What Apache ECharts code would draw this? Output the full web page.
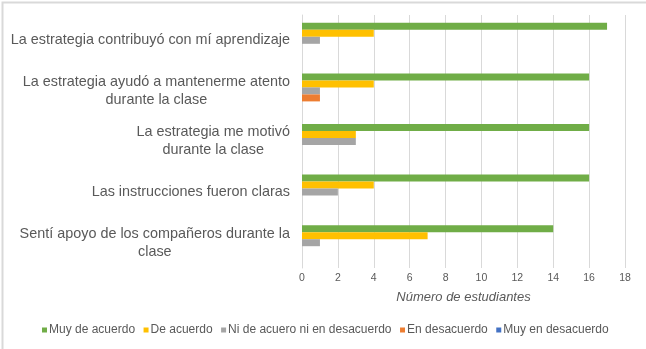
<!DOCTYPE html>
<html>
<head>
<meta charset="utf-8">
<script src="https://cdn.jsdelivr.net/npm/echarts@6/dist/echarts.min.js"></script>
<style>
  html, body { margin: 0; padding: 0; background: #fff; }
  #chart { width: 646px; height: 349px; }
</style>
</head>
<body>
<div id="chart"></div>
<script>
// Survey statements, listed top to bottom
const categories = [
  'La estrategia contribuyó con mí aprendizaje',
  'La estrategia ayudó a mantenerme atento\ndurante la clase',
  'La estrategia me motivó\ndurante la clase',
  'Las instrucciones fueron claras',
  'Sentí apoyo de los compañeros durante la\nclase'
];

// Number of students per response level
const muyDeAcuerdo      = [17, 16, 16, 16, 14];
const deAcuerdo         = [4, 4, 3, 4, 7];
const niDeAcuerdo       = [1, 1, 3, 2, 1];
const enDesacuerdo      = [0, 1, 0, 0, 0];
const muyEnDesacuerdo   = [0, 0, 0, 0, 0];

const seriesNames = [
  'Muy de acuerdo',
  'De acuerdo',
  'Ni de acuero ni en desacuerdo',
  'En desacuerdo',
  'Muy en desacuerdo'
];
const seriesData = [muyDeAcuerdo, deAcuerdo, niDeAcuerdo, enDesacuerdo, muyEnDesacuerdo];
const seriesColors = ['#70AD47', '#FFC000', '#A5A5A5', '#ED7D31', '#4472C4'];

const xTicks = { min: 0, max: 18, interval: 2 };

const chart = echarts.init(document.getElementById('chart'), null, { renderer: 'canvas' });

const labelFont = 'Liberation Sans, Arial, sans-serif';

chart.setOption({
  animation: false,
  backgroundColor: '#ffffff',
  textStyle: { fontFamily: labelFont },
  graphic: [{
    type: 'rect',
    left: 0, top: 0,
    shape: { width: 645, height: 348 },
    style: { fill: 'none', stroke: '#d9d9d9', lineWidth: 2 },
    silent: true
  }],
  grid: { left: 302, right: 21, top: 15, bottom: 81, containLabel: false },
  xAxis: {
    type: 'value',
    min: xTicks.min,
    max: xTicks.max,
    interval: xTicks.interval,
    name: 'Número de estudiantes',
    nameLocation: 'middle',
    nameGap: 23,
    nameTextStyle: { color: '#595959', fontSize: 13, fontStyle: 'italic', fontFamily: labelFont },
    axisLine: { show: false },
    axisTick: { show: false },
    axisLabel: { color: '#595959', fontSize: 10.5, margin: 5, fontFamily: labelFont },
    splitLine: { show: true, lineStyle: { color: '#d9d9d9', width: 1 } }
  },
  yAxis: {
    type: 'category',
    inverse: true,
    data: categories,
    axisLine: { show: true, lineStyle: { color: '#d9d9d9' } },
    axisTick: { show: false },
    axisLabel: {
      color: '#595959',
      fontSize: 14.4,
      lineHeight: 18,
      margin: 12,
      align: 'right',
      fontFamily: labelFont,
      formatter: function (v) {
        return v.split('\n').map(l => '{c|' + l + '}').join('\n');
      },
      rich: {
        c: { align: 'center', fontSize: 14.4, lineHeight: 18, color: '#595959', fontFamily: labelFont }
      }
    }
  },
  legend: {
    left: 37,
    top: 319,
    itemWidth: 5,
    itemHeight: 5,
    itemGap: 8.5,
    icon: 'rect',
    textStyle: { color: '#595959', fontSize: 12, padding: [0, 0, 0, -3], fontFamily: labelFont },
    data: seriesNames
  },
  series: seriesNames.map((name, i) => ({
    name: name,
    type: 'bar',
    data: seriesData[i],
    barWidth: 7,
    barGap: '0%',
    itemStyle: { color: seriesColors[i] }
  }))
});
</script>
</body>
</html>
